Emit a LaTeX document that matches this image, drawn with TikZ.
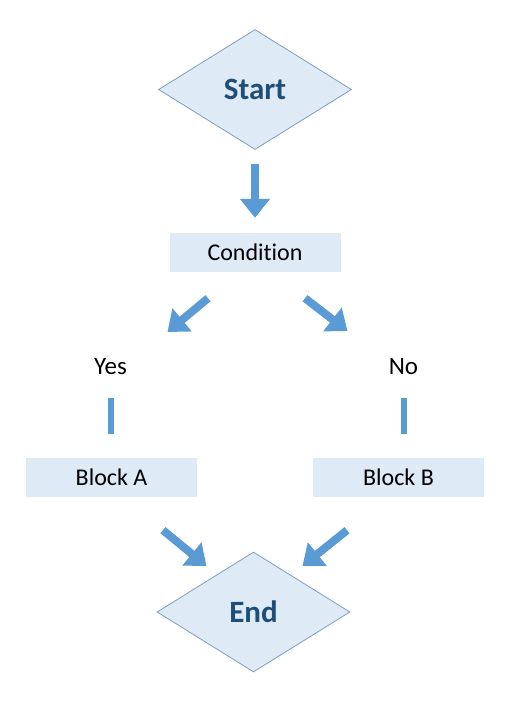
\documentclass[tikz,border=0pt]{standalone}
\usepackage{fontspec}
\setmainfont{Carlito}[Ligatures=NoCommon]
\usetikzlibrary{shapes.geometric,arrows.meta,calc}
\definecolor{arrowblue}{HTML}{5B9BD5}
\definecolor{boxfill}{HTML}{DEEBF7}
\definecolor{diaedge}{HTML}{7F9CC4}
\definecolor{titleblue}{HTML}{1F4E79}
\begin{document}
\begin{tikzpicture}[x=1pt,y=-1pt,
  decision/.style={diamond, draw=diaedge, line width=0.8pt, fill=boxfill,
    minimum width=193pt, minimum height=120pt, inner sep=0pt,
    font=\fontsize{31}{36}\selectfont\bfseries, text=titleblue},
  block/.style={fill=boxfill, minimum width=171pt, minimum height=39pt,
    inner sep=0pt, font=\fontsize{24}{28}\selectfont},
  branchlabel/.style={font=\fontsize{25}{30}\selectfont, inner sep=0pt},
  bigarrow/.style={draw=arrowblue, line width=8pt,
    -{Triangle[width=29pt,length=19pt]}},
  stem/.style={draw=arrowblue, line width=6pt}]
\useasboundingbox[fill=white] (0,0) rectangle (510,720);
\node[decision] (start) at (255,89.5) {Start};
\node[block] (cond) at (255,252.5) {Condition};
\node[branchlabel] (yes) at (110.5,367) {Yes};
\node[branchlabel] (no) at (403.5,367) {No};
\node[block] (blocka) at (111.5,477.5) {Block A};
\node[block] (blockb) at (398.5,477.5) {Block B};
\node[decision] (end) at (253.5,612) {End};
\draw[bigarrow] ([yshift=-14pt]start.south) -- ([yshift=15pt]cond.north);
\draw[bigarrow] ([xshift=-47pt,yshift=-26pt]cond.south) -- ([xshift=57pt,yshift=35pt]yes.center);
\draw[bigarrow] ([xshift=50pt,yshift=-26pt]cond.south) -- ([xshift=-56pt,yshift=36pt]no.center);
\draw[stem] ($(yes.center)+(0,31)$) -- ($(yes.center |- blocka.north)+(0,-24)$);
\draw[stem] ($(no.center)+(0,31)$) -- ($(no.center |- blockb.north)+(0,-24)$);
\draw[bigarrow] ([xshift=51.5pt,yshift=-33pt]blocka.south) -- ([xshift=-47pt,yshift=46pt]end.center);
\draw[bigarrow] ([xshift=-51.5pt,yshift=-33pt]blockb.south) -- ([xshift=49pt,yshift=46pt]end.center);
\end{tikzpicture}
\end{document}
